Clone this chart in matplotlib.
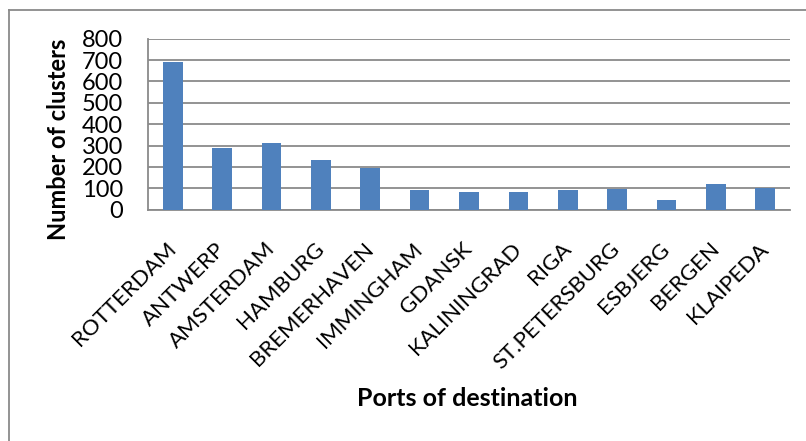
import matplotlib
matplotlib.use("Agg")
import matplotlib.pyplot as plt
from matplotlib.lines import Line2D

ports = ["ROTTERDAM", "ANTWERP", "AMSTERDAM", "HAMBURG", "BREMERHAVEN", "IMMINGHAM",
         "GDANSK", "KALININGRAD", "RIGA", "ST.PETERSBURG", "ESBJERG", "BERGEN", "KLAIPEDA"]
clusters = [690, 288, 310, 232, 195, 92, 84, 81, 90, 98, 45, 120, 100]
yticks = [0, 100, 200, 300, 400, 500, 600, 700, 800]

plt.rcParams['font.family'] = ['Lato', 'DejaVu Sans']

W, H = 806, 441
fig = plt.figure(figsize=(W / 100, H / 100), dpi=100)
ax = fig.add_axes([148 / W, 1 - 209.7 / H, (790 - 148) / W, (209.7 - 38.7) / H])

x = list(range(len(ports)))
ax.bar(x, clusters, width=0.4, color="#4F81BD", zorder=3)
ax.set_xlim(-0.5, len(ports) - 0.5)
ax.set_ylim(0, 800)
ax.set_yticks(yticks)
ax.set_yticklabels([str(v) for v in yticks], fontsize=17)
ax.yaxis.grid(True, color="#8a8a8a", linewidth=1.3, zorder=0)
ax.set_axisbelow(True)
ax.set_xticks(x)
ax.set_xticklabels(ports, rotation=45, ha="right", va="center",
                   rotation_mode="anchor", fontsize=16)
ax.tick_params(axis="both", length=0)
ax.tick_params(axis="y", pad=18)
ax.tick_params(axis="x", pad=26)
for s in ["top", "right"]:
    ax.spines[s].set_visible(False)
for s in ["left", "bottom"]:
    ax.spines[s].set_color("#8a8a8a")
    ax.spines[s].set_linewidth(1.3)

fig.text(59 / W, 1 - 139 / H, "Number of clusters", rotation=90, ha="center",
         va="center", fontsize=17, fontweight="bold")
fig.text(467 / W, 1 - 398 / H, "Ports of destination", ha="center",
         va="center", fontsize=18, fontweight="bold")

# outer chart border
fig.add_artist(Line2D([9 / W, 9 / W], [0, 1 - 9.5 / H], transform=fig.transFigure,
                      color="#8a8a8a", linewidth=1.3))
fig.add_artist(Line2D([9 / W, 1], [1 - 9.5 / H, 1 - 9.5 / H], transform=fig.transFigure,
                      color="#8a8a8a", linewidth=1.3))

fig.savefig("out.png", dpi=100)
